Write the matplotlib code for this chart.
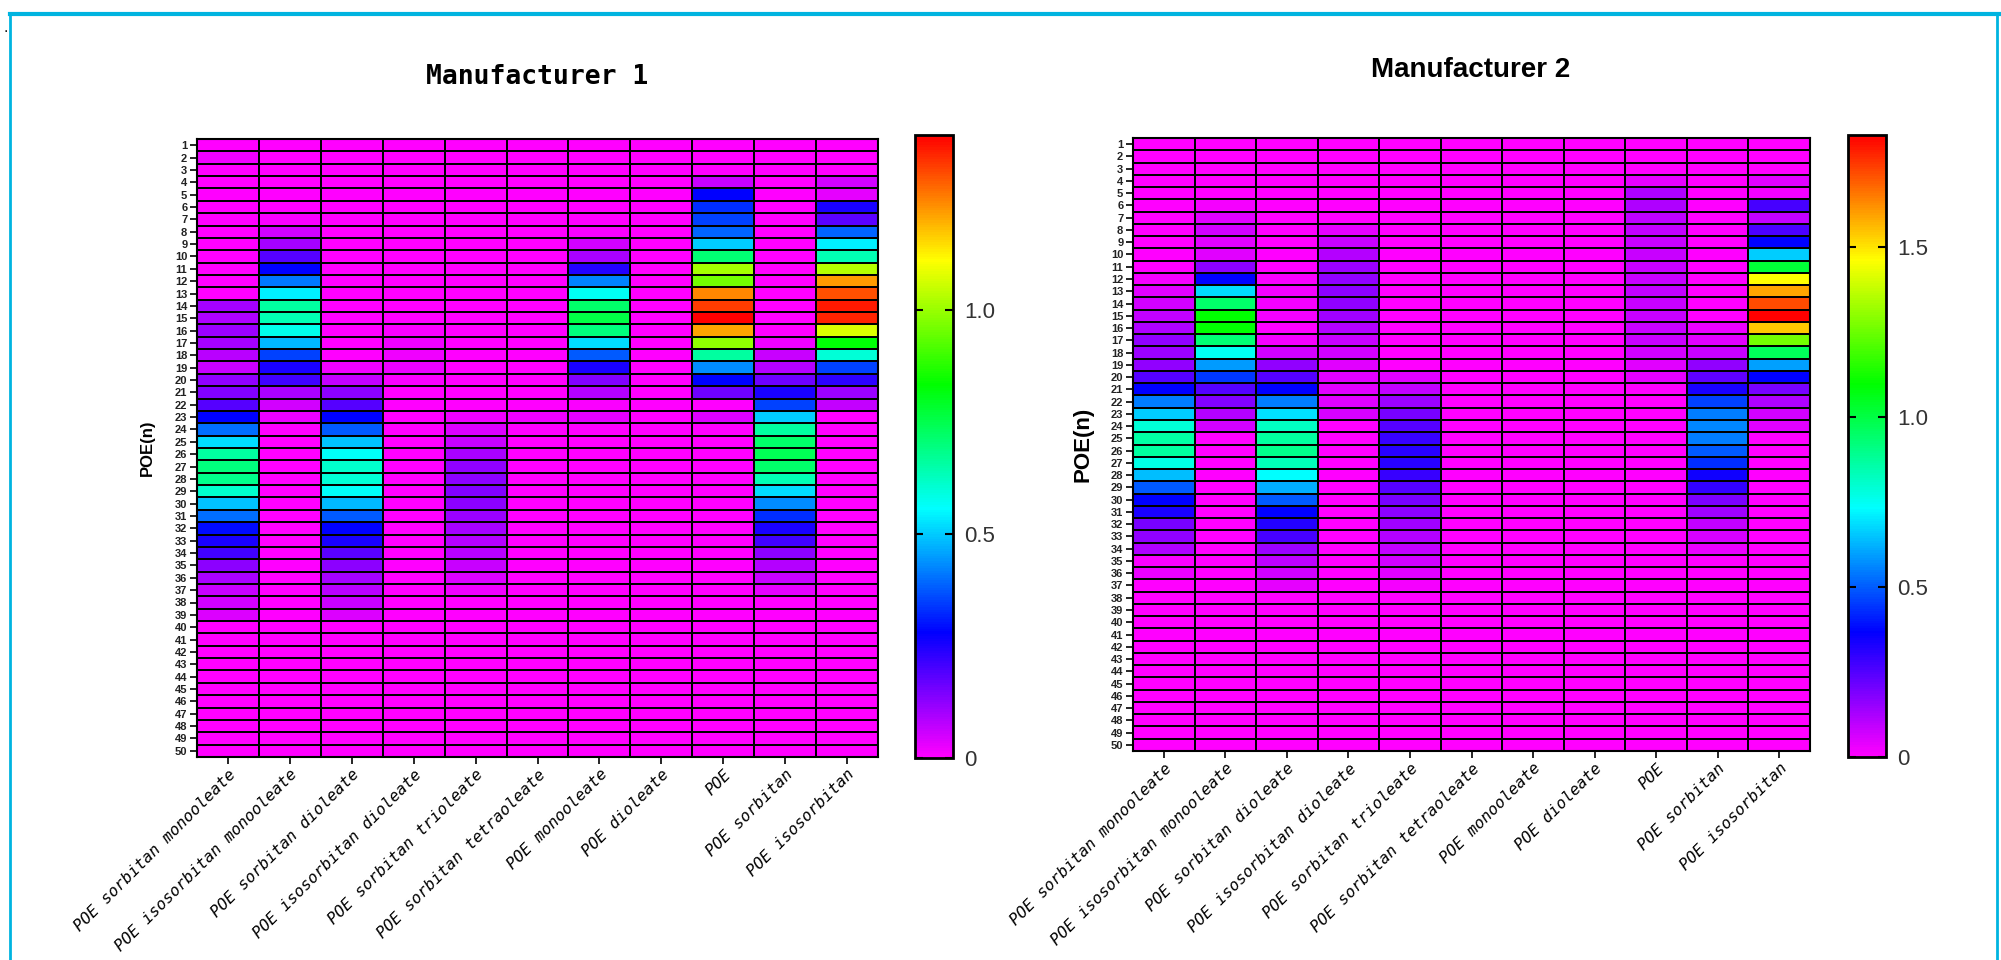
import numpy as np
import matplotlib.pyplot as plt
from matplotlib.colors import LinearSegmentedColormap
from matplotlib.lines import Line2D

SURFACTANTS = [
    "POE sorbitan monooleate",
    "POE isosorbitan monooleate",
    "POE sorbitan dioleate",
    "POE isosorbitan dioleate",
    "POE sorbitan trioleate",
    "POE sorbitan tetraoleate",
    "POE monooleate",
    "POE dioleate",
    "POE",
    "POE sorbitan",
    "POE isosorbitan",
]
POE_N = list(range(1, 51))

# Manufacturer 1 -- one list per surfactant, rows are POE(n) = 1..50
M1_SORBITAN_MONOOLEATE = ([0, 0.02] + [0] * 11 +
                          [0.10, 0.09, 0.11, 0.10, 0.08, 0.06, 0.12, 0.14, 0.19, 0.28,
                           0.40, 0.52, 0.66, 0.70, 0.68, 0.61, 0.49, 0.40, 0.29, 0.25,
                           0.21, 0.125, 0.095, 0.064, 0.05, 0.04] + [0] * 11)
M1_ISOSORBITAN_MONOOLEATE = ([0] * 6 +
                             [0.01, 0.05, 0.10, 0.19, 0.28, 0.41, 0.54, 0.66, 0.64, 0.58,
                              0.48, 0.35, 0.25, 0.21, 0.095, 0.05, 0.025] + [0] * 27)
M1_SORBITAN_DIOLEATE = ([0] * 18 +
                        [0.02, 0.07, 0.125, 0.19, 0.28, 0.38, 0.49, 0.56, 0.61, 0.60,
                         0.56, 0.48, 0.38, 0.28, 0.25, 0.18, 0.13, 0.10, 0.08, 0.06,
                         0.04] + [0] * 11)
M1_ISOSORBITAN_DIOLEATE = [0] * 15 + [0.01, 0.02, 0.02, 0.025, 0.01] + [0] * 30
M1_SORBITAN_TRIOLEATE = ([0] * 22 +
                         [0.02, 0.04, 0.064, 0.095, 0.12, 0.13, 0.14, 0.13, 0.11, 0.10,
                          0.085, 0.08, 0.06, 0.04, 0.02] + [0] * 13)
M1_SORBITAN_TETRAOLEATE = [0] * 22 + [0.02] + [0] * 27
M1_MONOOLEATE = ([0] * 7 +
                 [0.01, 0.05, 0.095, 0.24, 0.42, 0.57, 0.72, 0.76, 0.70, 0.52,
                  0.38, 0.25, 0.14, 0.085, 0.01, 0.03] + [0] * 27)
M1_DIOLEATE = [0] * 50
M1_POE = ([0] * 3 +
          [0.06, 0.28, 0.33, 0.35, 0.39, 0.50, 0.71, 1.01, 0.96, 1.24,
           1.32, 1.39, 1.21, 0.99, 0.66, 0.43, 0.28, 0.16, 0, 0.04] + [0] * 27)
M1_SORBITAN = ([0] * 16 +
               [0.02, 0.06, 0.085, 0.16, 0.25, 0.35, 0.50, 0.66, 0.72, 0.74,
                0.72, 0.64, 0.52, 0.43, 0.33, 0.25, 0.21, 0.13, 0.085, 0.06,
                0.03] + [0] * 13)
M1_ISOSORBITAN = ([0] * 3 +
                  [0.05, 0.03, 0.25, 0.18, 0.39, 0.54, 0.64, 1.03, 1.22, 1.30,
                   1.36, 1.35, 1.07, 0.83, 0.60, 0.35, 0.23, 0.11, 0.07] + [0] * 28)

# Manufacturer 2
M2_SORBITAN_MONOOLEATE = ([0] * 11 +
                          [0.02, 0.05, 0.07, 0.09, 0.12, 0.16, 0.15, 0.16, 0.25, 0.37,
                           0.55, 0.66, 0.79, 0.86, 0.87, 0.77, 0.64, 0.50, 0.37, 0.33,
                           0.20, 0.16, 0.12, 0.01, 0.03] + [0] * 14)
M2_ISOSORBITAN_MONOOLEATE = ([0] * 5 +
                             [0.02, 0.05, 0.07, 0.05, 0.05, 0.17, 0.37, 0.68, 0.95, 1.10,
                              1.10, 0.93, 0.75, 0.59, 0.45, 0.25, 0.18, 0.11, 0.07] + [0] * 26)
M2_SORBITAN_DIOLEATE = ([0] * 11 +
                        [0.01, 0.02, 0.02, 0.02, 0, 0.02, 0.07, 0.16, 0.25, 0.37,
                         0.55, 0.69, 0.82, 0.87, 0.90, 0.83, 0.73, 0.62, 0.50, 0.37,
                         0.32, 0.27, 0.15, 0.10, 0.07, 0.04] + [0] * 13)
M2_ISOSORBITAN_DIOLEATE = ([0] * 7 +
                           [0.04, 0.08, 0.11, 0.15, 0.16, 0.17, 0.16, 0.14, 0.11, 0.08,
                            0.07, 0.05, 0.05, 0.05, 0.05, 0.06] + [0] * 27)
M2_SORBITAN_TRIOLEATE = ([0] * 19 +
                         [0.05, 0.09, 0.15, 0.20, 0.25, 0.29, 0.31, 0.31, 0.29, 0.25,
                          0.20, 0.17, 0.14, 0.11, 0.09, 0.07, 0.05, 0.02] + [0] * 13)
M2_SORBITAN_TETRAOLEATE = [0] * 50
M2_MONOOLEATE = [0] * 50
M2_DIOLEATE = [0] * 50
M2_POE = ([0] * 3 +
          [0.04, 0.12, 0.12, 0.10, 0.09, 0.08, 0.08, 0.08, 0.085, 0.09,
           0.085, 0.08, 0.08, 0.08, 0.07, 0.05, 0.04] + [0] * 30)
M2_SORBITAN = ([0] * 15 +
               [0.03, 0.05, 0.08, 0.16, 0.23, 0.33, 0.46, 0.55, 0.56, 0.55,
                0.50, 0.43, 0.35, 0.30, 0.19, 0.14, 0.09, 0.06, 0.03] + [0] * 16)
M2_ISOSORBITAN = ([0] * 3 +
                  [0.05, 0.02, 0.27, 0.09, 0.26, 0.37, 0.66, 1.02, 1.46, 1.59,
                   1.72, 1.83, 1.54, 1.26, 0.97, 0.60, 0.37, 0.20, 0.12, 0.07,
                   0.05] + [0] * 26)

M1_TICKS = [0, 0.5, 1.0]
M2_TICKS = [0, 0.5, 1.0, 1.5]

RAINBOW = LinearSegmentedColormap.from_list(
    "rainbow6", ["#ff00ff", "#0000ff", "#00ffff", "#00ff00", "#ffff00", "#ff0000"])

W, H = 2001, 960


def px_rect(x0, y0, x1, y1):
    """Convert a pixel box (top-left origin) to figure fractions."""
    return [x0 / W, 1 - y1 / H, (x1 - x0) / W, (y1 - y0) / H]


def draw_heatmap(fig, ax, cax, columns, ticks, ylabel_size):
    data = np.column_stack(columns)
    vmax = data.max()
    mesh = ax.pcolormesh(np.arange(len(SURFACTANTS) + 1), np.arange(len(POE_N) + 1),
                         data, cmap=RAINBOW, vmin=0, vmax=vmax,
                         edgecolors="black", linewidth=1.3)
    ax.set_xlim(0, len(SURFACTANTS))
    ax.set_ylim(len(POE_N), 0)
    ax.set_yticks(np.arange(len(POE_N)) + 0.5)
    ax.set_yticklabels([str(n) for n in POE_N], fontsize=8, fontweight="bold",
                       family="Liberation Sans", color="#222222")
    ax.set_xticks(np.arange(len(SURFACTANTS)) + 0.5)
    ax.set_xticklabels(SURFACTANTS, rotation=45, ha="right", va="top",
                       rotation_mode="anchor", family="DejaVu Sans Mono",
                       fontstyle="italic", fontsize=11.5)
    ax.tick_params(axis="both", direction="out", length=5, width=1.2, pad=2)
    for s in ax.spines.values():
        s.set_linewidth(1.5)
    ax.set_ylabel("POE(n)", fontsize=ylabel_size, fontweight="bold",
                  family="Liberation Sans")

    cb = fig.colorbar(mesh, cax=cax)
    cb.set_ticks(ticks)
    cb.ax.set_yticklabels(["0" if t == 0 else f"{t:.1f}" for t in ticks],
                          fontsize=16, family="Liberation Sans", color="#333333")
    cb.ax.tick_params(direction="in", left=True, right=True, length=6, width=1.5, pad=8)
    cb.outline.set_linewidth(2)


def main():
    fig = plt.figure(figsize=(W / 100, H / 100), dpi=100)

    ax1 = fig.add_axes(px_rect(197, 139, 878, 757))
    cax1 = fig.add_axes(px_rect(915, 135, 953, 758))
    ax2 = fig.add_axes(px_rect(1133, 138, 1810, 751))
    cax2 = fig.add_axes(px_rect(1848, 135, 1886, 757))

    draw_heatmap(fig, ax1, cax1, [
        M1_SORBITAN_MONOOLEATE, M1_ISOSORBITAN_MONOOLEATE, M1_SORBITAN_DIOLEATE,
        M1_ISOSORBITAN_DIOLEATE, M1_SORBITAN_TRIOLEATE, M1_SORBITAN_TETRAOLEATE,
        M1_MONOOLEATE, M1_DIOLEATE, M1_POE, M1_SORBITAN, M1_ISOSORBITAN], M1_TICKS, 12)
    draw_heatmap(fig, ax2, cax2, [
        M2_SORBITAN_MONOOLEATE, M2_ISOSORBITAN_MONOOLEATE, M2_SORBITAN_DIOLEATE,
        M2_ISOSORBITAN_DIOLEATE, M2_SORBITAN_TRIOLEATE, M2_SORBITAN_TETRAOLEATE,
        M2_MONOOLEATE, M2_DIOLEATE, M2_POE, M2_SORBITAN, M2_ISOSORBITAN], M2_TICKS, 16)

    ax1.yaxis.set_label_coords(-0.062, 0.5)
    ax2.yaxis.set_label_coords(-0.059, 0.5)

    fig.text(537 / W, 1 - 77 / H, "Manufacturer 1", ha="center", va="center",
             fontsize=19, fontweight="bold", family="DejaVu Sans Mono")
    fig.text(1471 / W, 1 - 70 / H, "Manufacturer 2", ha="center", va="center",
             fontsize=20, fontweight="bold", family="Liberation Sans")
    fig.text(6 / W, 1 - 28 / H, ".", ha="center", va="center", fontsize=10)

    # light blue frame along the top, left and right edges
    frame = "#00b4e0"
    fig.add_artist(Line2D([10 / W, 1], [1 - 14 / H, 1 - 14 / H], color=frame, lw=3,
                          transform=fig.transFigure))
    fig.add_artist(Line2D([10 / W, 10 / W], [0, 1 - 14 / H], color=frame, lw=2,
                          transform=fig.transFigure))
    fig.add_artist(Line2D([1997 / W, 1997 / W], [0, 1 - 14 / H], color=frame, lw=2,
                          transform=fig.transFigure))

    fig.savefig("out.png", dpi=100)


if __name__ == "__main__":
    main()
